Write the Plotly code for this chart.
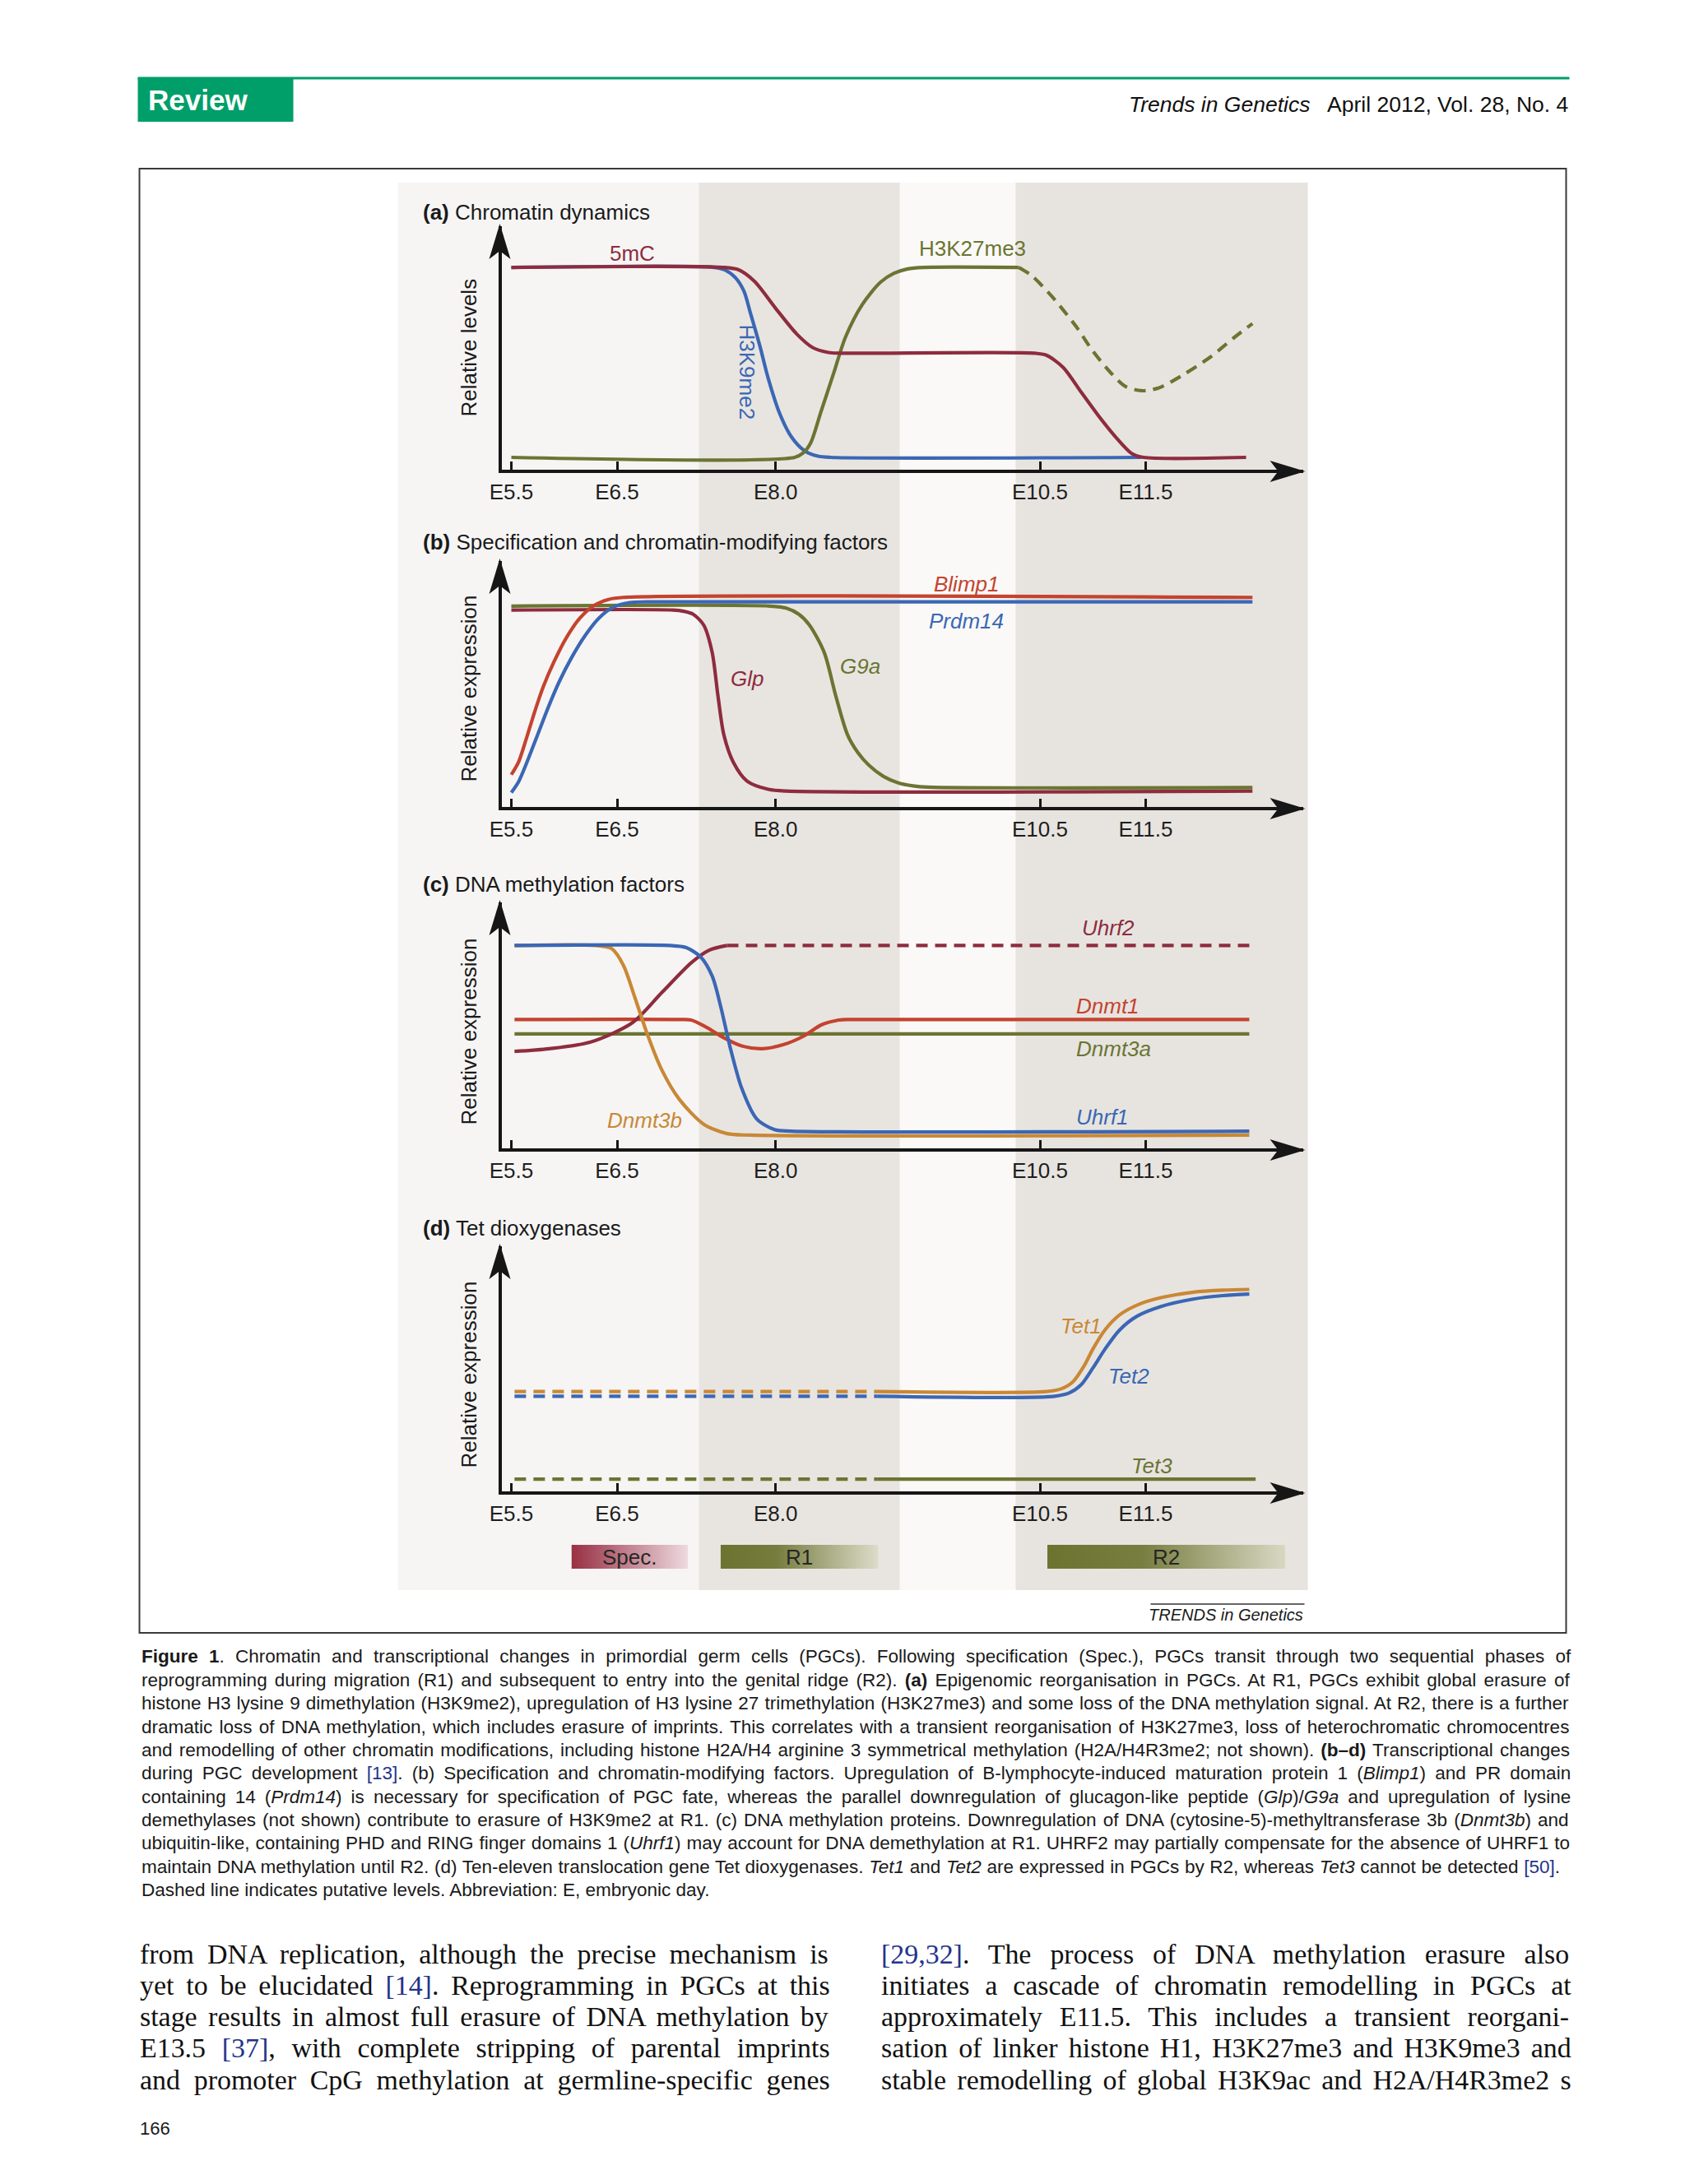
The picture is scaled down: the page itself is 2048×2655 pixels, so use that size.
import re
import plotly.graph_objects as go

W, H = 2048, 2655

# ---------------- chart data ----------------
tick_days = [5.5, 6.5, 8.0, 10.5, 11.5]
tick_text = ["E5.5", "E6.5", "E8.0", "E10.5", "E11.5"]

# (a) Chromatin dynamics - relative levels
mC5_day = [5.50, 7.50, 7.65, 7.80, 8.00, 8.20, 8.35, 8.50, 8.62, 10.45, 10.56, 10.72, 10.89, 11.06, 11.23, 11.37, 11.48, 12.45]
mC5_lvl = [0.832, 0.832, 0.822, 0.775, 0.665, 0.560, 0.505, 0.485, 0.482, 0.482, 0.474, 0.424, 0.323, 0.223, 0.133, 0.072, 0.057, 0.057]
k9_day = [5.50, 7.42, 7.52, 7.62, 7.70, 7.76, 7.85, 7.93, 8.04, 8.15, 8.27, 8.40, 8.52, 11.46]
k9_lvl = [0.832, 0.832, 0.822, 0.790, 0.735, 0.648, 0.513, 0.379, 0.234, 0.140, 0.085, 0.062, 0.057, 0.057]
k27_day = [5.50, 8.18, 8.26, 8.33, 8.43, 8.55, 8.66, 8.82, 8.99, 9.12, 9.25, 9.40, 10.30]
k27_lvl = [0.057, 0.057, 0.075, 0.115, 0.245, 0.402, 0.547, 0.681, 0.771, 0.808, 0.826, 0.832, 0.832]
k27_dash_day = [10.30, 10.42, 10.61, 10.84, 11.00, 11.17, 11.31, 11.46, 11.62, 11.84, 12.12, 12.34, 12.51]
k27_dash_lvl = [0.832, 0.799, 0.715, 0.592, 0.491, 0.402, 0.346, 0.329, 0.340, 0.390, 0.469, 0.547, 0.603]

# (b) Specification and chromatin-modifying factors - relative expression
blimp_day = [5.50, 5.57, 5.64, 5.72, 5.80, 5.90, 6.02, 6.15, 6.28, 6.42, 6.56, 12.51]
blimp_lvl = [0.137, 0.190, 0.280, 0.390, 0.490, 0.590, 0.690, 0.770, 0.820, 0.845, 0.853, 0.853]
prdm_day = [5.50, 5.57, 5.65, 5.75, 5.85, 5.95, 6.07, 6.20, 6.33, 6.47, 6.62, 6.78, 12.51]
prdm_lvl = [0.065, 0.110, 0.190, 0.300, 0.410, 0.510, 0.610, 0.700, 0.770, 0.815, 0.832, 0.835, 0.835]
g9a_day = [5.50, 7.95, 8.10, 8.22, 8.32, 8.46, 8.57, 8.68, 8.78, 8.88, 9.02, 9.16, 9.30, 9.44, 12.51]
g9a_lvl = [0.818, 0.818, 0.810, 0.785, 0.741, 0.630, 0.453, 0.298, 0.225, 0.176, 0.130, 0.104, 0.092, 0.087, 0.085]
glp_day = [5.50, 7.03, 7.13, 7.22, 7.32, 7.40, 7.455, 7.51, 7.60, 7.73, 7.93, 8.10, 12.51]
glp_lvl = [0.802, 0.802, 0.797, 0.785, 0.741, 0.630, 0.453, 0.298, 0.187, 0.111, 0.078, 0.071, 0.071]

# (c) DNA methylation factors - relative expression
uhrf1_day = [5.53, 7.00, 7.15, 7.29, 7.40, 7.48, 7.57, 7.68, 7.82, 7.99, 8.15, 12.48]
uhrf1_lvl = [0.826, 0.826, 0.818, 0.780, 0.702, 0.580, 0.414, 0.248, 0.126, 0.082, 0.076, 0.076]
dnmt3b_day = [5.53, 6.30, 6.45, 6.56, 6.67, 6.785, 6.92, 7.09, 7.32, 7.54, 7.76, 12.48]
dnmt3b_lvl = [0.826, 0.826, 0.813, 0.746, 0.614, 0.469, 0.326, 0.204, 0.104, 0.066, 0.060, 0.060]
uhrf2_day = [5.53, 5.86, 6.25, 6.645, 6.924, 7.204, 7.371, 7.539]
uhrf2_lvl = [0.398, 0.409, 0.436, 0.514, 0.636, 0.757, 0.807, 0.826]
uhrf2_dash_day = [7.539, 12.48]
uhrf2_dash_lvl = [0.826, 0.826]
dnmt1_day = [5.53, 7.09, 7.20, 7.34, 7.51, 7.68, 7.87, 8.07, 8.27, 8.43, 8.60, 8.71, 12.48]
dnmt1_lvl = [0.527, 0.527, 0.525, 0.497, 0.453, 0.420, 0.409, 0.425, 0.461, 0.505, 0.525, 0.527, 0.527]
dnmt3a_day = [5.53, 12.48]
dnmt3a_lvl = [0.469, 0.469]

# (d) Tet dioxygenases - relative expression
tet1_dash_day = [5.53, 8.96]
tet1_dash_lvl = [0.411, 0.411]
tet1_day = [8.96, 10.56, 10.70, 10.81, 10.92, 11.00, 11.115, 11.254, 11.45, 11.67, 11.95, 12.23, 12.48]
tet1_lvl = [0.411, 0.411, 0.422, 0.450, 0.517, 0.583, 0.661, 0.722, 0.767, 0.794, 0.814, 0.822, 0.825]
tet2_dash_day = [5.53, 8.96]
tet2_dash_lvl = [0.392, 0.392]
tet2_day = [8.96, 10.64, 10.78, 10.89, 11.00, 11.115, 11.254, 11.42, 11.645, 11.95, 12.23, 12.48]
tet2_lvl = [0.392, 0.392, 0.406, 0.439, 0.506, 0.583, 0.661, 0.717, 0.756, 0.786, 0.800, 0.806]
tet3_dash_day = [5.53, 8.96]
tet3_dash_lvl = [0.056, 0.056]
tet3_day = [8.96, 12.54]
tet3_lvl = [0.056, 0.056]

# phases (days)
phase_names = ["Spec.", "R1", "R2"]
phase_start = [6.07, 7.48, 10.57]
phase_end = [7.17, 8.97, 12.82]

# ---------------- text ----------------
panel_titles = ["<b>(a)</b> Chromatin dynamics",
                "<b>(b)</b> Specification and chromatin-modifying factors",
                "<b>(c)</b> DNA methylation factors",
                "<b>(d)</b> Tet dioxygenases"]
y_titles = ["Relative levels", "Relative expression", "Relative expression", "Relative expression"]

caption_lines = [
    "<b>Figure 1</b>. Chromatin and transcriptional changes in primordial germ cells (PGCs). Following specification (Spec.), PGCs transit through two sequential phases of",
    "reprogramming during migration (R1) and subsequent to entry into the genital ridge (R2). <b>(a)</b> Epigenomic reorganisation in PGCs. At R1, PGCs exhibit global erasure of",
    "histone H3 lysine 9 dimethylation (H3K9me2), upregulation of H3 lysine 27 trimethylation (H3K27me3) and some loss of the DNA methylation signal. At R2, there is a further",
    "dramatic loss of DNA methylation, which includes erasure of imprints. This correlates with a transient reorganisation of H3K27me3, loss of heterochromatic chromocentres",
    "and remodelling of other chromatin modifications, including histone H2A/H4 arginine 3 symmetrical methylation (H2A/H4R3me2; not shown). <b>(b\u2013d)</b> Transcriptional changes",
    "during PGC development <L>[13]</L>. (b) Specification and chromatin-modifying factors. Upregulation of B-lymphocyte-induced maturation protein 1 (<i>Blimp1</i>) and PR domain",
    "containing 14 (<i>Prdm14</i>) is necessary for specification of PGC fate, whereas the parallel downregulation of glucagon-like peptide (<i>Glp</i>)/<i>G9a</i> and upregulation of lysine",
    "demethylases (not shown) contribute to erasure of H3K9me2 at R1. (c) DNA methylation proteins. Downregulation of DNA (cytosine-5)-methyltransferase 3b (<i>Dnmt3b</i>) and",
    "ubiquitin-like, containing PHD and RING finger domains 1 (<i>Uhrf1</i>) may account for DNA demethylation at R1. UHRF2 may partially compensate for the absence of UHRF1 to",
    "maintain DNA methylation until R2. (d) Ten-eleven translocation gene Tet dioxygenases. <i>Tet1</i> and <i>Tet2</i> are expressed in PGCs by R2, whereas <i>Tet3</i> cannot be detected <L>[50]</L>.",
    "Dashed line indicates putative levels. Abbreviation: E, embryonic day.",
]
body_left = [
    "from DNA replication, although the precise mechanism is",
    "yet to be elucidated <L>[14]</L>. Reprogramming in PGCs at this",
    "stage results in almost full erasure of DNA methylation by",
    "E13.5 <L>[37]</L>, with complete stripping of parental imprints",
    "and promoter CpG methylation at germline-specific genes",
]
body_right = [
    "<L>[29,32]</L>. The process of DNA methylation erasure also",
    "initiates a cascade of chromatin remodelling in PGCs at",
    "approximately E11.5. This includes a transient reorgani-",
    "sation of linker histone H1, H3K27me3 and H3K9me3 and",
    "stable remodelling of global H3K9ac and H2A/H4R3me2 s",
]

# ---------------- styles ----------------
SANS = "Liberation Sans, Arial, sans-serif"
SERIF = "Liberation Serif, Times New Roman, serif"
AX = "#161616"
DRED = "#8e2c3e"
BLUE = "#3b67b4"
OLIVE = "#6b7532"
RED = "#c4432f"
ORANGE = "#c98836"
GREEN = "#009e69"
LINK = "#23348a"
LW = 4.2
DASH = "14px,9px"

ARIAL_W = [278,278,355,556,556,889,667,191,333,333,389,584,278,333,278,278,
           556,556,556,556,556,556,556,556,556,556,278,278,584,584,584,556,1015,
           667,667,722,722,667,611,778,722,278,500,667,556,833,722,778,667,778,722,667,611,722,667,944,667,667,611,
           278,278,278,469,556,333,
           556,556,500,556,556,278,556,556,222,222,500,222,833,556,556,556,556,333,500,278,556,500,722,500,500,500,
           334,260,334,584]
TIMES_W = [250,333,408,500,500,833,778,180,333,333,500,564,250,333,250,278,
           500,500,500,500,500,500,500,500,500,500,278,278,564,564,564,444,921,
           722,667,667,722,611,556,722,722,333,389,722,611,889,722,722,556,722,667,556,611,722,722,944,722,722,611,
           333,278,333,469,500,333,
           444,500,444,500,444,333,500,500,278,278,500,278,778,500,500,500,500,333,389,278,500,500,722,500,500,444,
           480,200,480,541]
ARIAL = {chr(32 + i): w for i, w in enumerate(ARIAL_W)}
ARIAL["\u2013"] = 556
TIMES = {chr(32 + i): w for i, w in enumerate(TIMES_W)}
ARIAL_B = {' ': 278, '(': 333, ')': 333, 'F': 611, 'i': 278, 'g': 611, 'u': 611, 'r': 389,
           'e': 556, '1': 556, 'a': 556, 'b': 611, 'd': 611, '\u2013': 556}


def em_width(markup, table, btable=None):
    s = markup.replace("<L>", "").replace("</L>", "")
    tot, bold = 0.0, False
    for part in re.split(r"(<[^>]+>)", s):
        if part.startswith("<"):
            if part == "<b>":
                bold = True
            elif part == "</b>":
                bold = False
            continue
        for ch in part:
            if bold and btable and ch in btable:
                tot += btable[ch]
            else:
                tot += table.get(ch, 500)
    return tot / 1000.0


def plain(markup):
    return re.sub(r"<[^>]+>", "", markup)


def render(markup):
    return markup.replace("<L>", '<span style="color:%s">' % LINK).replace("</L>", "</span>")


def justified(markup, target, size, table, btable=None, last=False):
    if last:
        return render(markup)
    natural = em_width(markup, table, btable) * size
    gaps = plain(markup).count(" ")
    ws = (target - natural) / gaps if gaps else 0.0
    return '<span style="word-spacing:%.2fpx">%s</span>' % (ws, render(markup))


# The page is drawn into an effective plot width slightly narrower than the
# window (measured: x_screen = 13.5 + 2033/2048 * x_paper_px); horizontal paper
# coordinates are expressed in that screen space.
OX, WEFF = 13.5, 2033.0


def px(x):
    return (x - OX) / WEFF


def py(y):
    return 1 - y / H


# ---------------- figure ----------------
fig = go.Figure()

X_L, X_R = 608, 1582


def day_at(p):
    return 5.5 + (p - 620) / 128.5


x_range = [day_at(X_L), day_at(X_R)]
panels = [(573, 275), (983, 682), (1398, 1097), (1815, 1515)]

layout_axes = {}
for i, (A, T) in enumerate(panels, start=1):
    s = "" if i == 1 else str(i)
    layout_axes["xaxis" + s] = dict(
        domain=[px(X_L), px(X_R)], range=x_range, anchor="y" + s,
        tickmode="array", tickvals=tick_days, ticktext=tick_text,
        ticks="inside", ticklen=10, tickwidth=3, tickcolor=AX,
        showline=True, linecolor=AX, linewidth=4, showgrid=False, zeroline=False,
        tickfont=dict(family=SANS, size=26, color="#1e1e1e"), ticklabelstandoff=1,
        fixedrange=True)
    layout_axes["yaxis" + s] = dict(
        domain=[py(A - 2), py(T)], range=[2.0 / (A - T), 1], anchor="x" + s,
        showline=True, linecolor=AX, linewidth=4, showticklabels=False, ticks="",
        showgrid=False, zeroline=False, fixedrange=True)
layout_axes["xaxis5"] = dict(domain=[px(X_L), px(X_R)], range=x_range, anchor="y5",
                             visible=False, fixedrange=True)
layout_axes["yaxis5"] = dict(domain=[py(1907), py(1878)], range=[0, 1], anchor="x5",
                             visible=False, fixedrange=True)


def curve(xs, ys, color, panel, dash=None, width=LW):
    s = "" if panel == 1 else str(panel)
    fig.add_trace(go.Scatter(
        x=xs, y=ys, mode="lines", xaxis="x" + s, yaxis="y" + s,
        line=dict(color=color, width=width, shape="spline", smoothing=0.8, dash=dash),
        hoverinfo="skip", showlegend=False, cliponaxis=False))


# panel a
curve(k9_day, k9_lvl, BLUE, 1)
curve(k27_day, k27_lvl, OLIVE, 1)
curve(k27_dash_day, k27_dash_lvl, OLIVE, 1, dash=DASH)
curve(mC5_day, mC5_lvl, DRED, 1)
# panel b
curve(glp_day, glp_lvl, DRED, 2)
curve(g9a_day, g9a_lvl, OLIVE, 2)
curve(prdm_day, prdm_lvl, BLUE, 2)
curve(blimp_day, blimp_lvl, RED, 2)
# panel c
curve(dnmt3a_day, dnmt3a_lvl, OLIVE, 3)
curve(dnmt1_day, dnmt1_lvl, RED, 3)
curve(uhrf2_day, uhrf2_lvl, DRED, 3)
curve(uhrf2_dash_day, uhrf2_dash_lvl, DRED, 3, dash=DASH)
curve(dnmt3b_day, dnmt3b_lvl, ORANGE, 3)
curve(uhrf1_day, uhrf1_lvl, BLUE, 3)
# panel d
curve(tet3_dash_day, tet3_dash_lvl, OLIVE, 4, dash=DASH)
curve(tet3_day, tet3_lvl, OLIVE, 4)
curve(tet2_dash_day, tet2_dash_lvl, BLUE, 4, dash=DASH)
curve(tet2_day, tet2_lvl, BLUE, 4)
curve(tet1_dash_day, tet1_dash_lvl, ORANGE, 4, dash=DASH)
curve(tet1_day, tet1_lvl, ORANGE, 4)

# phase bars with gradients
phase_scales = [
    [[0, "#9a3142"], [0.15, "#a4485a"], [1, "#eedadf"]],
    [[0, "#6c7330"], [0.35, "#767c3d"], [1, "#dcdcc9"]],
    [[0, "#6c7330"], [0.40, "#787e40"], [1, "#d8d8c3"]],
]
for name, s0, s1, cs in zip(phase_names, phase_start, phase_end, phase_scales):
    fig.add_trace(go.Scatter(
        x=[s0, s1, s1, s0, s0], y=[0, 0, 1, 1, 0], mode="lines", fill="toself",
        fillgradient=dict(type="horizontal", colorscale=cs),
        line=dict(width=0, color="rgba(0,0,0,0)"), xaxis="x5", yaxis="y5",
        hoverinfo="skip", showlegend=False))

# ---------------- shapes ----------------
shapes = []


def rect(x0, y0, x1, y1, fill, layer="below", line=None):
    shapes.append(dict(type="rect", xref="paper", yref="paper",
                       x0=px(x0), x1=px(x1), y0=py(y1), y1=py(y0),
                       fillcolor=fill, line=line or dict(width=0), layer=layer))


def hline(x0, x1, y, color, width):
    shapes.append(dict(type="line", xref="paper", yref="paper",
                       x0=px(x0), x1=px(x1), y0=py(y), y1=py(y),
                       line=dict(color=color, width=width), layer="above"))


# figure background and the R1 / R2 bands
rect(482, 222, 1588, 1933, "#f6f5f4")
rect(1092, 222, 1233, 1933, "#faf9f7")
rect(848, 222, 1092, 1933, "#e8e5e1")
rect(1233, 222, 1588, 1933, "#e7e4e0")
# header
hline(166, 1906, 95, GREEN, 3)
rect(166, 95, 355, 148, GREEN, layer="above")
# figure frame
shapes.append(dict(type="rect", xref="paper", yref="paper", x0=px(168), x1=px(1902),
                   y0=py(1985), y1=py(205), line=dict(color="#3a3a3a", width=2),
                   fillcolor="rgba(0,0,0,0)", layer="below"))
hline(1397, 1584, 1950, "#333333", 1.5)

# axis arrowheads
for A, T in panels:
    shapes.append(dict(type="path", xref="paper", yref="paper", xsizemode="pixel",
                       ysizemode="pixel", xanchor=px(X_R), yanchor=py(A),
                       path="M3,0 L-40,13 L-30,0 L-40,-13 Z", fillcolor=AX,
                       line=dict(width=0), layer="above"))
    shapes.append(dict(type="path", xref="paper", yref="paper", xsizemode="pixel",
                       ysizemode="pixel", xanchor=px(X_L - 2), yanchor=py(T),
                       path="M0,3 L13,-40 L0,-30 L-13,-40 Z", fillcolor=AX,
                       line=dict(width=0), layer="above"))

# ---------------- annotations ----------------
anns = []


def ann(text, x, y, size, color="#1a1a1a", xanchor="left", family=SANS, angle=0):
    anns.append(dict(text=text, x=px(x), y=py(y), xref="paper", yref="paper",
                     xanchor=xanchor, yanchor="middle", showarrow=False, textangle=angle,
                     font=dict(family=family, size=size, color=color), align="left"))


def lab(text, day, lvl, panel, color, italic=True, angle=0, size=26):
    s = "" if panel == 1 else str(panel)
    t = "<i>%s</i>" % text if italic else text
    anns.append(dict(text=t, x=day, y=lvl, xref="x" + s, yref="y" + s,
                     xanchor="center", yanchor="middle", showarrow=False, textangle=angle,
                     font=dict(family=SANS, size=size, color=color)))


# header texts
ann("<b>Review</b>", 176, 121, 35, "white")
ann("<i>Trends in Genetics</i>   April 2012, Vol. 28, No. 4", 1906, 127, 26.5, "#111111", xanchor="right")

# panel titles / y titles
title_y = [258, 659, 1075, 1493]
ytitle_y = [423, 837, 1254, 1671]
for t, yt, ty, yy in zip(panel_titles, y_titles, title_y, ytitle_y):
    ann(t, 510, ty, 26, "#1a1a1a")
    ann(yt, 568, yy, 26, "#1a1a1a", xanchor="center", angle=-90)

# curve labels
lab("5mC", 6.644, 0.889, 1, DRED, italic=False)
lab("H3K27me3", 9.858, 0.909, 1, OLIVE, italic=False)
lab("H3K9me2", 7.733, 0.403, 1, BLUE, italic=False, angle=90)
lab("Blimp1", 9.803, 0.907, 2, RED)
lab("Prdm14", 9.803, 0.757, 2, BLUE)
lab("G9a", 8.796, 0.575, 2, OLIVE)
lab("Glp", 7.733, 0.525, 2, DRED)
lab("Uhrf2", 11.142, 0.897, 3, DRED)
lab("Dnmt1", 11.142, 0.581, 3, RED)
lab("Dnmt3a", 11.196, 0.409, 3, OLIVE)
lab("Uhrf1", 11.088, 0.133, 3, BLUE)
lab("Dnmt3b", 6.757, 0.120, 3, ORANGE)
lab("Tet1", 10.891, 0.678, 4, ORANGE)
lab("Tet2", 11.337, 0.473, 4, BLUE)
lab("Tet3", 11.562, 0.111, 4, OLIVE)

# phase labels
for name, s0, s1 in zip(phase_names, phase_start, phase_end):
    anns.append(dict(text=name, x=(s0 + s1) / 2, y=0.5, xref="x5", yref="y5",
                     xanchor="center", yanchor="middle", showarrow=False,
                     font=dict(family=SANS, size=26, color="#262626")))

ann("<i>TRENDS in Genetics</i>", 1584, 1963, 20, "#1a1a1a", xanchor="right")

# caption (justified)
CAP_X0, CAP_X1 = 168, 1906
cap_w = CAP_X1 - CAP_X0
cap_size = min(cap_w / em_width(l, ARIAL, ARIAL_B) for l in caption_lines[:-1]) * 0.995
for k, line in enumerate(caption_lines):
    txt = justified(line, cap_w, cap_size, ARIAL, ARIAL_B, last=(k == len(caption_lines) - 1))
    ann(txt, CAP_X0, 2014 + k * 28.35, cap_size, "#1a1a1a")

# body text (two justified columns)
col_w = 839
body_size = min(col_w / em_width(l, TIMES) for l in body_left + body_right) * 0.96
for k, line in enumerate(body_left):
    ann(justified(line, col_w, body_size, TIMES), 166, 2375 + k * 38.3, body_size, "#111111", family=SERIF)
for k, line in enumerate(body_right):
    ann(justified(line, col_w, body_size, TIMES), 1067, 2375 + k * 38.3, body_size, "#111111", family=SERIF)

ann("166", 166, 2587, 22, "#1a1a1a")

fig.update_layout(
    width=W, height=H, autosize=False,
    margin=dict(l=0, r=0, t=0, b=0, pad=0),
    paper_bgcolor="white", plot_bgcolor="rgba(0,0,0,0)",
    showlegend=False, hovermode=False,
    shapes=shapes, annotations=anns, **layout_axes)

fig.write_html(
    "out.html",
    config={"displayModeBar": False, "responsive": False},
    post_script=("document.documentElement.style.margin='0px';"
                 "document.body.style.margin='0px';"
                 "document.documentElement.style.overflow='hidden';"
                 "document.body.style.overflow='hidden';"))
